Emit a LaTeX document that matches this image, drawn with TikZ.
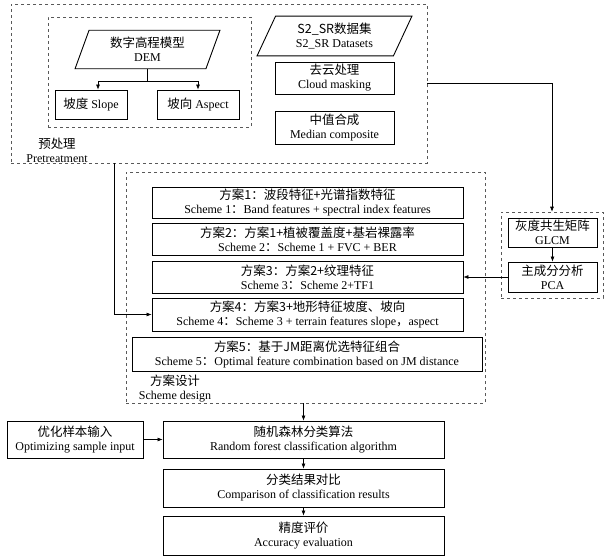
\documentclass[tikz,border=0pt]{standalone}
\usepackage{fontspec}
\setmainfont{Liberation Serif}
\newfontfamily\cjk[Scale=1.04]{Noto Sans CJK SC}
\usetikzlibrary{shapes.geometric,arrows.meta,fit}

\begin{document}
\begin{tikzpicture}[x=1pt,y=-1pt,font=\fontsize{12}{14}\selectfont,
	box/.style={draw,line width=0.9pt,align=center,inner sep=0pt},
	data/.style={trapezium,draw,line width=0.9pt,align=center,inner sep=0pt,trapezium left angle=#1,trapezium right angle=180-#1},
	group/.style={draw=black!65,dashed,line width=0.6pt,inner sep=0pt},
	arr/.style={-{Latex[length=5pt,width=4pt]},line width=0.6pt}]
	\useasboundingbox (0,0) rectangle (606,560);

	% pretreatment
	\node[data=70,minimum width=145,minimum height=33] (dem) at (147.5,49.5) {{\cjk 数字高程模型}\\DEM};
	\node[box,minimum width=72,minimum height=29] (slope) at (91,104.5) {{\cjk 坡度} Slope};
	\node[box,minimum width=82,minimum height=29] (aspect) at (198,104.5) {{\cjk 坡向} Aspect};
	\node[data=65,minimum width=155,minimum height=34] (s2sr) at (334.5,36) {{\cjk S2\_SR数据集}\\S2\_SR Datasets};
	\node[box,minimum width=119,minimum height=32] (cloud) at (334.5,78) {{\cjk 去云处理}\\Cloud masking};
	\node[box,minimum width=119,minimum height=33] (median) at (334.5,127.5) {{\cjk 中值合成}\\Median composite};
	\node[group,fit={(48,17) (251,127)}] (demgrp) {};
	\node[group,fit={(11,4) (427,163)}] (pre) {};
	\node[align=center] (prelbl) at (57,150) {{\cjk 预处理}\\Pretreatment};

	% texture
	\node[box,minimum width=89,minimum height=29] (glcm) at (552.5,232.5) {{\cjk 灰度共生矩阵}\\GLCM};
	\node[box,minimum width=89,minimum height=30] (pca) at (552.5,277) {{\cjk 主成分分析}\\PCA};
	\node[group,fit={(501,212) (603,298)}] (texgrp) {};

	% schemes
	\node[box,minimum width=311,minimum height=31] (s1) at (307.5,202.5) {{\cjk 方案1：波段特征+光谱指数特征}\\Scheme 1{\cjk ：}Band features + spectral index features};
	\node[box,minimum width=311,minimum height=32] (s2) at (307.5,239) {{\cjk 方案2：方案1+植被覆盖度+基岩裸露率}\\Scheme 2{\cjk ：}Scheme 1 + FVC + BER};
	\node[box,minimum width=311,minimum height=32] (s3) at (307.5,277) {{\cjk 方案3：方案2+纹理特征}\\Scheme 3{\cjk ：}Scheme 2+TF1};
	\node[box,minimum width=311,minimum height=33] (s4) at (307.5,314.5) {{\cjk 方案4：方案3+地形特征坡度、坡向}\\Scheme 4{\cjk ：}Scheme 3 + terrain features slope{\cjk ，}aspect};
	\node[box,minimum width=350,minimum height=34] (s5) at (307,354) {{\cjk 方案5：基于JM距离优选特征组合}\\Scheme 5{\cjk ：}Optimal feature combination based on JM distance};
	\node[group,fit={(126,172) (485,403)}] (design) {};
	\node[align=center] (deslbl) at (175,389) {{\cjk 方案设计}\\Scheme design};

	% classification
	\node[box,minimum width=136,minimum height=37] (opt) at (75,439.5) {{\cjk 优化样本输入}\\Optimizing sample input};
	\node[box,minimum width=281,minimum height=37] (rf) at (303.5,439.5) {{\cjk 随机森林分类算法}\\Random forest classification algorithm};
	\node[box,minimum width=281,minimum height=38] (cmp) at (303.5,488) {{\cjk 分类结果对比}\\Comparison of classification results};
	\node[box,minimum width=281,minimum height=39] (acc) at (303.5,535.5) {{\cjk 精度评价}\\Accuracy evaluation};

	\draw[arr] (dem.south) -- ++(0,12) coordinate (split) -| ([xshift=7pt]slope.north);
	\draw[arr] (split) -| (aspect.north);
	\draw[arr] (pre.east) -| (texgrp.north);
	\draw[arr] (glcm) -- (pca);
	\draw[arr] (pca) -- (s3);
	\draw[arr] ([xshift=104pt]pre.south west) |- (s4.west);
	\draw[arr] (rf.north |- design.south) -- (rf.north);
	\draw[arr] (opt) -- (rf);
	\draw[arr] (rf) -- (cmp);
	\draw[arr] (cmp) -- (acc);
\end{tikzpicture}
\end{document}
